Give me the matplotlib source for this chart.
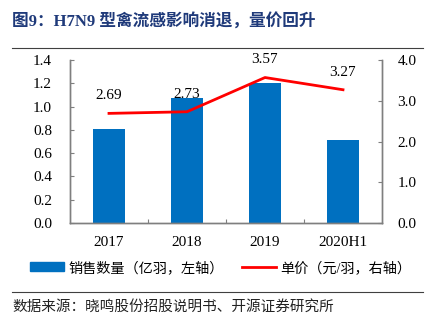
import matplotlib.pyplot as plt
from matplotlib.lines import Line2D
from matplotlib.patches import Patch

plt.rcParams['font.family'] = ['Liberation Serif', 'Noto Sans CJK SC']

years = ['2017', '2018', '2019', '2020H1']
sales = [0.81, 1.07, 1.20, 0.71]     # 亿羽
price = [2.69, 2.73, 3.57, 3.27]     # 元/羽

W, H = 438, 322
fig = plt.figure(figsize=(W / 100, H / 100), dpi=100)

ax = fig.add_axes([70 / W, 1 - 223 / H, 312 / W, 163 / H])
x = range(len(years))
ax.bar(x, sales, width=0.4, color='#0070C0', zorder=2)
ax.set_xlim(-0.5, 3.5)
ax.set_ylim(0, 1.4)
ax.set_yticks([0, 0.2, 0.4, 0.6, 0.8, 1.0, 1.2, 1.4])
ax.set_yticklabels(['%.1f' % v for v in ax.get_yticks()])
ax.set_xticks([0.5, 1.5, 2.5], minor=False)
ax.set_xticklabels([])
ax.set_xticks(list(x), minor=True)
ax.set_xticklabels(years, minor=True)
ax.tick_params(axis='x', which='minor', length=0, pad=9, labelsize=11)
ax.tick_params(axis='x', which='major', direction='in', length=3, color='#7f7f7f')
ax.tick_params(axis='y', direction='in', length=3, color='#7f7f7f', labelsize=11, pad=13)

ax2 = ax.twinx()
ax2.plot(x, price, color='#FF0000', lw=2, zorder=3)
ax2.set_ylim(0, 4.0)
ax2.set_yticks([0, 1, 2, 3, 4])
ax2.set_yticklabels(['%.1f' % v for v in ax2.get_yticks()])
ax2.tick_params(axis='y', direction='in', length=3, color='#7f7f7f', labelsize=11, pad=11)
for xi, p in zip(x, price):
    ax2.annotate('%.2f' % p, (xi, p), xytext=(0, 8), textcoords='offset points',
                 ha='center', va='bottom', fontsize=11)

for a in (ax, ax2):
    a.spines['top'].set_visible(False)
    for s in ('left', 'right', 'bottom'):
        a.spines[s].set_color('#7f7f7f')
        a.spines[s].set_linewidth(1)

# title and rules
fig.text(12 / W, 1 - 22 / H, '图9：H7N9 型禽流感影响消退，量价回升', fontsize=12,
         fontweight='bold', color='#1F3A7A', va='center', ha='left')
fig.add_artist(Line2D([12 / W, 423 / W], [1 - 48 / H] * 2, color='#404040', lw=0.8))
fig.add_artist(Line2D([12 / W, 423 / W], [1 - 292 / H] * 2, color='#404040', lw=0.8))
fig.text(12 / W, 1 - 307 / H, '数据来源：晓鸣股份招股说明书、开源证券研究所', fontsize=10.5,
         color='#222222', va='center', ha='left')

handles = [Patch(color='#0070C0'), Line2D([], [], color='#FF0000', lw=2)]
fig.legend(handles, ['销售数量（亿羽，左轴）', '单价（元/羽，右轴）'],
           loc='center', bbox_to_anchor=(221 / W, 1 - 268 / H), ncol=2,
           frameon=False, fontsize=10.2, handlelength=2.4, handleheight=0.6,
           columnspacing=1.3, handletextpad=0.3)

fig.savefig('out.png', dpi=100)
